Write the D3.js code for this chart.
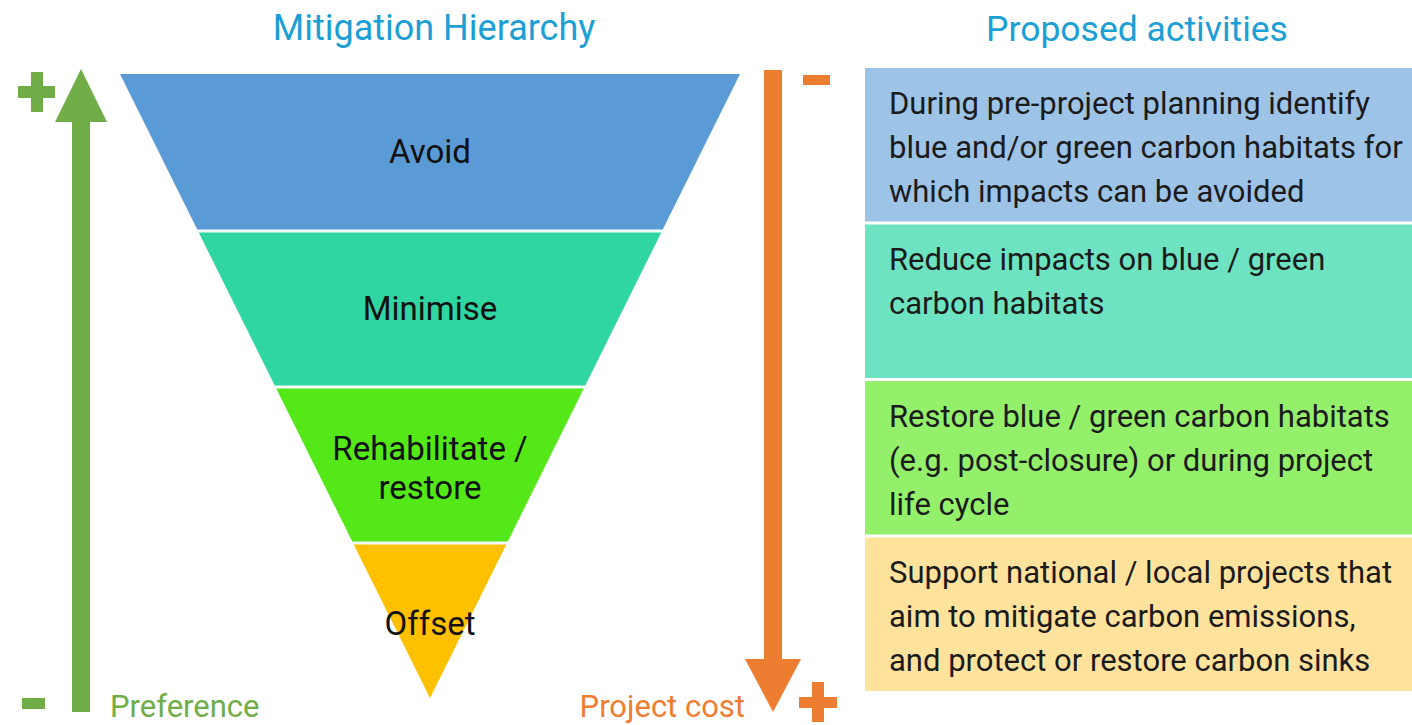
<!DOCTYPE html>
<html>
<head>
<meta charset="utf-8">
<script src="https://cdn.jsdelivr.net/npm/d3@7"></script>
<style>
  html, body { margin: 0; padding: 0; background: #ffffff; }
  svg { display: block; font-family: Roboto, "Noto Sans", sans-serif; }
</style>
</head>
<body>
<svg id="chart" width="1412" height="725"></svg>
<script>
// ---- data ----
const levels = ["Avoid", "Minimise", "Rehabilitate / restore", "Offset"];
const levelLabelLines = [["Avoid"], ["Minimise"], ["Rehabilitate /", "restore"], ["Offset"]];
const activityLines = [
  ["During pre-project planning identify", "blue and/or green carbon habitats for", "which impacts can be avoided"],
  ["Reduce impacts on blue / green", "carbon habitats"],
  ["Restore blue / green carbon habitats", "(e.g. post-closure) or during project", "life cycle"],
  ["Support national / local projects that", "aim to mitigate carbon emissions,", "and protect or restore carbon sinks"]
];
const titles = ["Mitigation Hierarchy", "Proposed activities"];
const axisLabels = ["Preference", "Project cost"];

// ---- styles ----
const funnelColors = ["#5b9bd5", "#2fd6a1", "#54e818", "#ffc000"];
const boxColors = ["#9dc3e6", "#6de3c1", "#94ef6b", "#ffe29b"];
const titleColor = "#1c9fd5";
const green = "#70ad47";
const orange = "#ed7d31";

const svg = d3.select("#chart");

// ---- funnel ----
const funnelTop = 74, funnelBottom = 698, funnelCx = 430, funnelHalf = 310;
const yLevel = d3.scaleLinear().domain([0, levels.length]).range([funnelTop, funnelBottom]);
const halfW = d3.scaleLinear().domain([funnelTop, funnelBottom]).range([funnelHalf, 0]);

const gF = svg.append("g");
gF.selectAll("path.band").data(levels).join("path")
  .attr("class", "band")
  .attr("fill", (d, i) => funnelColors[i])
  .attr("d", (d, i) => {
    const y0 = yLevel(i), y1 = yLevel(i + 1);
    return d3.line()([
      [funnelCx - halfW(y0), y0], [funnelCx + halfW(y0), y0],
      [funnelCx + halfW(y1), y1], [funnelCx - halfW(y1), y1]
    ]) + "Z";
  });
// separators
gF.selectAll("line.sep").data(d3.range(1, levels.length)).join("line")
  .attr("class", "sep")
  .attr("x1", i => funnelCx - halfW(yLevel(i)) - 4)
  .attr("x2", i => funnelCx + halfW(yLevel(i)) + 4)
  .attr("y1", i => yLevel(i) + 1)
  .attr("y2", i => yLevel(i) + 1)
  .attr("stroke", "#f4fbfb").attr("stroke-width", 3);

const labelOffsets = [0, 1, 4, 4];
gF.selectAll("text.lvl").data(levels).join("text")
  .attr("class", "lvl")
  .attr("text-anchor", "middle")
  .attr("fill", "#111")
  .style("font-size", "33px")
  .each(function (d, i) {
    const lines = levelLabelLines[i];
    const cy = (yLevel(i) + yLevel(i + 1)) / 2 + labelOffsets[i];
    const lh = 39;
    const start = cy - (lines.length - 1) * lh / 2 + 11;
    d3.select(this).selectAll("tspan").data(lines).join("tspan")
      .attr("x", funnelCx)
      .attr("y", (l, k) => start + k * lh)
      .text(l => l);
  });

// ---- titles ----
svg.append("text").attr("x", 434).attr("y", 40).attr("text-anchor", "middle")
  .attr("fill", titleColor).style("font-size", "36px").text(titles[0]);
svg.append("text").attr("x", 1137).attr("y", 41).attr("text-anchor", "middle")
  .attr("fill", titleColor).style("font-size", "35.5px").text(titles[1]);

// ---- activity boxes ----
const yBox = d3.scaleBand().domain(levels).range([68, 691]).paddingInner(0.019);
const gB = svg.append("g");
gB.selectAll("rect").data(levels).join("rect")
  .attr("x", 865).attr("width", 560)
  .attr("y", d => yBox(d)).attr("height", yBox.bandwidth())
  .attr("fill", (d, i) => boxColors[i]);
gB.selectAll("text").data(levels).join("text")
  .attr("fill", "#1b1b1b")
  .style("font-size", "31px")
  .each(function (d, i) {
    const top = yBox(d);
    d3.select(this).selectAll("tspan").data(activityLines[i]).join("tspan")
      .attr("x", 889)
      .attr("y", (l, k) => top + 46 + k * 44)
      .text(l => l);
  });

// ---- left arrow (Preference) ----
const gL = svg.append("g").attr("fill", green);
gL.append("rect").attr("x", 72).attr("y", 118).attr("width", 18).attr("height", 594);
gL.append("path").attr("d", d3.line()([[81, 69], [107, 122], [55, 122]]) + "Z");
// plus
gL.append("rect").attr("x", 18).attr("y", 86).attr("width", 37).attr("height", 12);
gL.append("rect").attr("x", 31).attr("y", 72).attr("width", 12).attr("height", 40);
// minus
gL.append("rect").attr("x", 22).attr("y", 698).attr("width", 23).attr("height", 11);
svg.append("text").attr("x", 110).attr("y", 717).attr("fill", green)
  .style("font-size", "31px").text(axisLabels[0]);

// ---- right arrow (Project cost) ----
const gR = svg.append("g").attr("fill", orange);
gR.append("rect").attr("x", 764).attr("y", 70).attr("width", 18).attr("height", 592);
gR.append("path").attr("d", d3.line()([[745, 659], [801, 659], [773, 712]]) + "Z");
// minus
gR.append("rect").attr("x", 803).attr("y", 75).attr("width", 27).attr("height", 10);
// plus
gR.append("rect").attr("x", 799).attr("y", 697).attr("width", 38).attr("height", 11);
gR.append("rect").attr("x", 812).attr("y", 682).attr("width", 12).attr("height", 40);
svg.append("text").attr("x", 745).attr("y", 717).attr("text-anchor", "end").attr("fill", orange)
  .style("font-size", "31px").text(axisLabels[1]);
</script>
</body>
</html>
